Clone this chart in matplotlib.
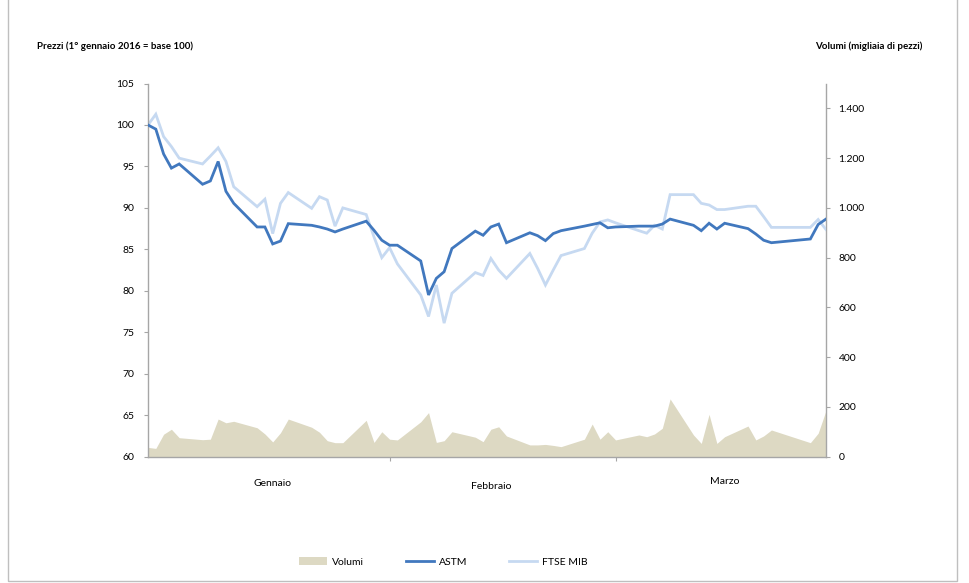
import matplotlib
matplotlib.use("Agg")
import matplotlib.pyplot as plt
import matplotlib.ticker as mticker
from matplotlib.patches import Rectangle
import pandas as pd

plt.rcParams['font.family'] = ['Lato', 'DejaVu Sans']

# ---- data -------------------------------------------------------------
jan_days = [4, 5, 6, 7, 8, 11, 12, 13, 14, 15, 18, 19, 20, 21, 22, 25, 26, 27, 28, 29]
feb_days = [1, 2, 3, 4, 5, 8, 9, 10, 11, 12, 15, 16, 17, 18, 19, 22, 23, 24, 25, 26, 29]
mar_days = [1, 2, 3, 4, 7, 8, 9, 10, 11, 14, 15, 16, 17, 18, 21, 22, 23, 24, 29, 30, 31]

astm = [100.0, 99.5, 96.5, 94.8, 95.3, 92.85, 93.25, 95.6, 92.0, 90.55,
        87.7, 87.7, 85.65, 86.0, 88.1, 87.9, 87.7, 87.45, 87.1, 87.45,
        88.4, 87.3, 86.1, 85.5, 85.5, 83.6, 79.5, 81.5, 82.3, 85.1,
        87.2, 86.7, 87.7, 88.05, 85.8, 87.0, 86.65, 86.05, 86.9, 87.25, 87.8,
        88.0, 88.2, 87.6, 87.7, 87.8, 87.8, 87.8, 88.05, 88.65, 87.9,
        87.25, 88.15, 87.45, 88.15, 87.5, 86.85, 86.1, 85.8, 86.25, 88.0, 88.65]

ftse_mib = [100.0, 101.3, 98.6, 97.4, 96.0, 95.3, 96.25, 97.25, 95.6, 92.55,
            90.15, 91.05, 86.9, 90.55, 91.85, 89.95, 91.35, 90.95, 87.8, 90.0,
            89.2, 86.5, 84.0, 85.2, 83.25, 79.5, 76.9, 80.7, 76.1, 79.7,
            82.2, 81.85, 83.9, 82.5, 81.5, 84.5, 82.7, 80.7, 82.5, 84.25, 85.1,
            86.95, 88.3, 88.55, 88.2, 87.25, 86.95, 87.9, 87.45, 91.6, 91.6,
            90.55, 90.35, 89.8, 89.8, 90.2, 90.2, 88.95, 87.65, 87.65, 88.6, 87.4]

volumi = [37, 33, 90, 110, 76, 68, 70, 151, 136, 142,
          116, 91, 59, 96, 151, 118, 98, 64, 56, 56,
          146, 57, 100, 70, 67, 140, 177, 57, 64, 100,
          78, 60, 110, 120, 83, 47, 47, 49, 45, 40, 70,
          131, 70, 100, 67, 87, 80, 91, 114, 232, 87,
          53, 170, 53, 80, 123, 67, 83, 107, 56, 94, 185]

month_labels = ["Gennaio", "Febbraio", "Marzo"]
month_label_dates = ["2016-01-20", "2016-02-17", "2016-03-18"]
month_tick_dates = ["2016-02-04", "2016-03-04"]
price_ticks = [60, 65, 70, 75, 80, 85, 90, 95, 100, 105]
volume_ticks = [0, 200, 400, 600, 800, 1000, 1200, 1400]

dates = pd.to_datetime([f"2016-01-{d:02d}" for d in jan_days] +
                       [f"2016-02-{d:02d}" for d in feb_days] +
                       [f"2016-03-{d:02d}" for d in mar_days])

# ---- style ------------------------------------------------------------
C_ASTM = "#4178BE"
C_FTSE = "#C6D9F1"
C_VOL = "#DDD9C3"
C_AX = "#A6A6A6"
FS = 7.5
label_y_offsets = [-0.073, -0.081, -0.067]

fig = plt.figure(figsize=(9.7, 5.83), dpi=100)
ax = fig.add_axes([0.1526, 0.2168, 0.6989, 0.6399])
ax2 = ax.twinx()

ax2.fill_between(dates, 0, volumi, color=C_VOL, linewidth=0, label="Volumi")
ax.plot(dates, astm, color=C_ASTM, lw=2.0, label="ASTM", solid_joinstyle="miter", zorder=3)
ax.plot(dates, ftse_mib, color=C_FTSE, lw=2.0, label="FTSE MIB", solid_joinstyle="miter", zorder=2)

ax.set_zorder(ax2.get_zorder() + 1)
ax.patch.set_visible(False)

ax.set_xlim(dates[0], dates[-1])
ax.set_ylim(60, 105)
ax2.set_ylim(0, 1500)

ax.set_yticks(price_ticks)
ax2.set_yticks(volume_ticks)
ax2.yaxis.set_major_formatter(mticker.FuncFormatter(lambda v, p: f"{int(v):,}".replace(",", ".")))

ax.set_xticks(pd.to_datetime(month_tick_dates))
ax.set_xticklabels([])

for a in (ax, ax2):
    a.spines["top"].set_visible(False)
    for s in ("left", "right", "bottom"):
        a.spines[s].set_color(C_AX)
        a.spines[s].set_linewidth(1.0)
ax.spines["right"].set_visible(False)
ax2.spines["left"].set_visible(False)
ax2.spines["bottom"].set_visible(False)

ax.tick_params(axis="y", direction="out", length=3, width=0.8, color=C_AX,
               labelsize=FS, pad=7, labelcolor="#000000")
ax.tick_params(axis="x", direction="out", length=3, width=0.8, color=C_AX)
ax2.tick_params(axis="y", direction="out", length=3, width=0.8, color=C_AX,
                labelsize=FS, pad=6, labelcolor="#000000")

for lab, d, dy in zip(month_labels, month_label_dates, label_y_offsets):
    ax.text(pd.Timestamp(d), dy, lab, transform=ax.get_xaxis_transform(),
            ha="center", va="center", fontsize=FS)

fig.text(37 / 970, 1 - 46 / 583, "Prezzi (1° gennaio 2016 = base 100)",
         fontsize=7, fontweight="bold", ha="left", va="center")
fig.text(922 / 970, 1 - 46 / 583, "Volumi (migliaia di pezzi)",
         fontsize=7, fontweight="bold", ha="right", va="center")

h1, l1 = ax2.get_legend_handles_labels()
h2, l2 = ax.get_legend_handles_labels()
fig.legend(h1 + h2, l1 + l2, loc="center", bbox_to_anchor=(0.457, 1 - 562 / 583),
           ncol=3, frameon=False, fontsize=FS, columnspacing=4.0,
           handlelength=2.7, handletextpad=0.5)

fig.add_artist(Rectangle((8 / 970, 2 / 583), (957 - 8) / 970, 1.2,
                         transform=fig.transFigure, fill=False,
                         edgecolor="#BFBFBF", linewidth=1.0))

fig.savefig("out.png", dpi=100)
